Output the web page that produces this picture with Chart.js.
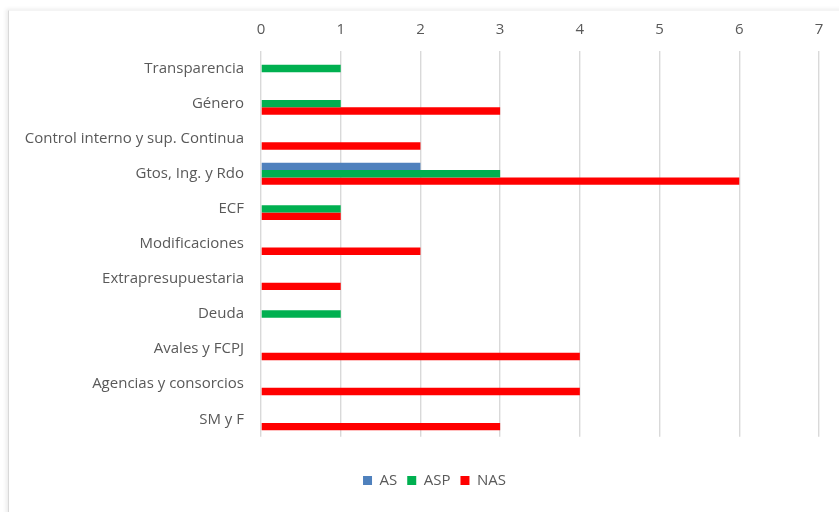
<!DOCTYPE html>
<html>
<head>
<meta charset="utf-8">
<script src="https://cdn.jsdelivr.net/npm/chart.js@4"></script>
<style>
  html, body { margin: 0; padding: 0; background: #fff; }
  #wrap { position: relative; width: 839px; height: 512px; overflow: hidden; }
  #card {
    position: absolute; left: 8px; top: 10px; width: 900px; height: 600px;
    border-left: 1px solid #d9d9d9; border-top: 1px solid #f4f4f4;
    box-shadow: -2px -1px 4px rgba(0,0,0,0.08);
  }
  canvas { position: absolute; left: 0; top: 0; }
</style>
</head>
<body>
<div id="wrap">
  <div id="card"></div>
  <canvas id="grafico" width="839" height="512"></canvas>
</div>
<script>
// --- DATOS ---
const categorias = [
  'Transparencia', 'Género', 'Control interno y sup. Continua', 'Gtos, Ing. y Rdo',
  'ECF', 'Modificaciones', 'Extrapresupuestaria', 'Deuda',
  'Avales y FCPJ', 'Agencias y consorcios', 'SM y F'
];
const valoresAS  = [0, 0, 0, 2, 0, 0, 0, 0, 0, 0, 0];
const valoresASP = [1, 1, 0, 3, 1, 0, 0, 1, 0, 0, 0];
const valoresNAS = [0, 3, 2, 6, 1, 2, 1, 0, 4, 4, 3];
const ticksX = [0, 1, 2, 3, 4, 5, 6, 7];

const gris = '#595959';
const fuente = "'Open Sans', sans-serif";

// desplaza la leyenda un poco a la derecha, como en el original
const moverLeyenda = {
  id: 'moverLeyenda',
  afterUpdate(chart) {
    if (chart.legend) chart.legend.left += 30;
  }
};

new Chart(document.getElementById('grafico'), {
  type: 'bar',
  data: {
    labels: categorias,
    datasets: [
      { label: 'AS',  data: valoresAS,  backgroundColor: '#4f81bd' },
      { label: 'ASP', data: valoresASP, backgroundColor: '#00b050' },
      { label: 'NAS', data: valoresNAS, backgroundColor: '#ff0000' }
    ]
  },
  options: {
    responsive: false,
    animation: false,
    indexAxis: 'y',
    layout: { padding: { left: 20, right: 20, top: 0, bottom: 14 } },
    datasets: { bar: { categoryPercentage: 0.63, barPercentage: 1.0 } },
    scales: {
      x: {
        position: 'top',
        min: ticksX[0],
        max: ticksX[ticksX.length - 1],
        afterFit: s => { s.height = 51; },
        afterBuildTicks: s => { s.ticks = ticksX.map(v => ({ value: v })); },
        grid: { color: '#d9d9d9', lineWidth: 1.4, drawTicks: false },
        border: { display: false },
        ticks: { padding: 12, color: gris, font: { family: fuente, size: 15 } }
      },
      y: {
        afterFit: s => { s.width = 241; },
        grid: { display: false, drawTicks: false },
        border: { display: false },
        ticks: { padding: 17, color: gris, font: { family: fuente, size: 15 } }
      }
    },
    plugins: {
      legend: {
        position: 'bottom',
        title: { display: true, text: '', font: { size: 1 }, padding: { top: 25, bottom: 0 } },
        labels: { boxWidth: 9, boxHeight: 9, padding: 10, color: gris, font: { family: fuente, size: 15 } }
      },
      tooltip: { enabled: false }
    }
  },
  plugins: [moverLeyenda]
});
</script>
</body>
</html>
